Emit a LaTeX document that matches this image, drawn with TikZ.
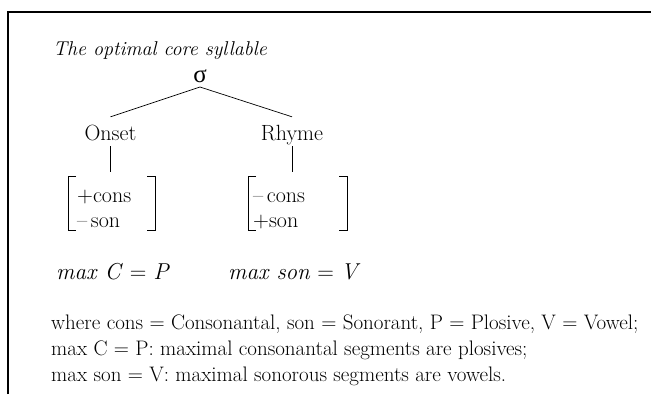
\documentclass[tikz,border=0pt]{standalone}
\usepackage{fontspec}
\newfontfamily\greekfont{Liberation Serif}
\usetikzlibrary{positioning}
\begin{document}
\begin{tikzpicture}[x=1pt,y=-1pt,font=\fontsize{22}{25}\selectfont,
  lbl/.style={inner sep=0pt,text height=15pt,text depth=6pt,anchor=base},
  feat/.style={inner ysep=0pt,align=left,text height=25pt,text depth=28pt,anchor=base west},
  maxrule/.style={anchor=base west,inner sep=0pt,font=\fontsize{23}{26}\selectfont},
  note/.style={anchor=base west,inner sep=0pt,font=\fontsize{21}{26}\selectfont},
  rule/.style={line width=0.7pt}]
\useasboundingbox (0,0) rectangle (651,394);
% frame, top and left only
\draw[line width=2.5pt] (8,394) -- (8,12) -- (651,12);
\node[anchor=base west,inner sep=0pt,font=\fontsize{20}{26}\selectfont\itshape] (title) at (53,55) {The optimal core syllable};
\node[inner sep=0pt,anchor=south,font=\fontsize{25}{30}\selectfont\greekfont] (sigma) at (200,83) {σ};
\node[lbl] (onset) at (110.5,140) {Onset};
\node[lbl] (rhyme) at (292,140) {Rhyme};
\node[feat,inner xsep=9pt,text width=69pt] (onsetft) at (68,202) {+cons\\–\,son};
\node[feat,inner xsep=5pt,text width=89pt] (rhymeft) at (248,202) {–\,cons\\+son};
% tree
\draw[rule] ([yshift=-4pt]sigma.south) -- ([yshift=8pt]onset.north);
\draw[rule] ([yshift=-4pt]sigma.south) -- ([yshift=8pt]rhyme.north);
\draw[rule] (onset.south) -- ([yshift=5pt]onset.south |- onsetft.north);
\draw[rule] (rhyme.south) -- ([yshift=5pt]rhyme.south |- rhymeft.north);
% feature brackets
\foreach \f in {onsetft,rhymeft} {
  \draw[rule] (\f.north west) ++(8,0) -- (\f.north west) -- (\f.south west) -- ++(8,0);
  \draw[rule] (\f.north east) ++(-8,0) -- (\f.north east) -- (\f.south east) -- ++(-8,0);
}
\node[maxrule] (maxc) at (56,279) {\textit{max C} = \textit{P}};
\node[maxrule] (maxson) at (228,279) {\textit{max son} = \textit{V}};
\node[note] (note1) at (51,329) {where cons = Consonantal, son = Sonorant, P = Plosive, V = Vowel;};
\node[note] (note2) at (51,355) {max C = P: maximal consonantal segments are plosives;};
\node[note] (note3) at (51,381) {max son = V: maximal sonorous segments are vowels.};
\end{tikzpicture}
\end{document}
